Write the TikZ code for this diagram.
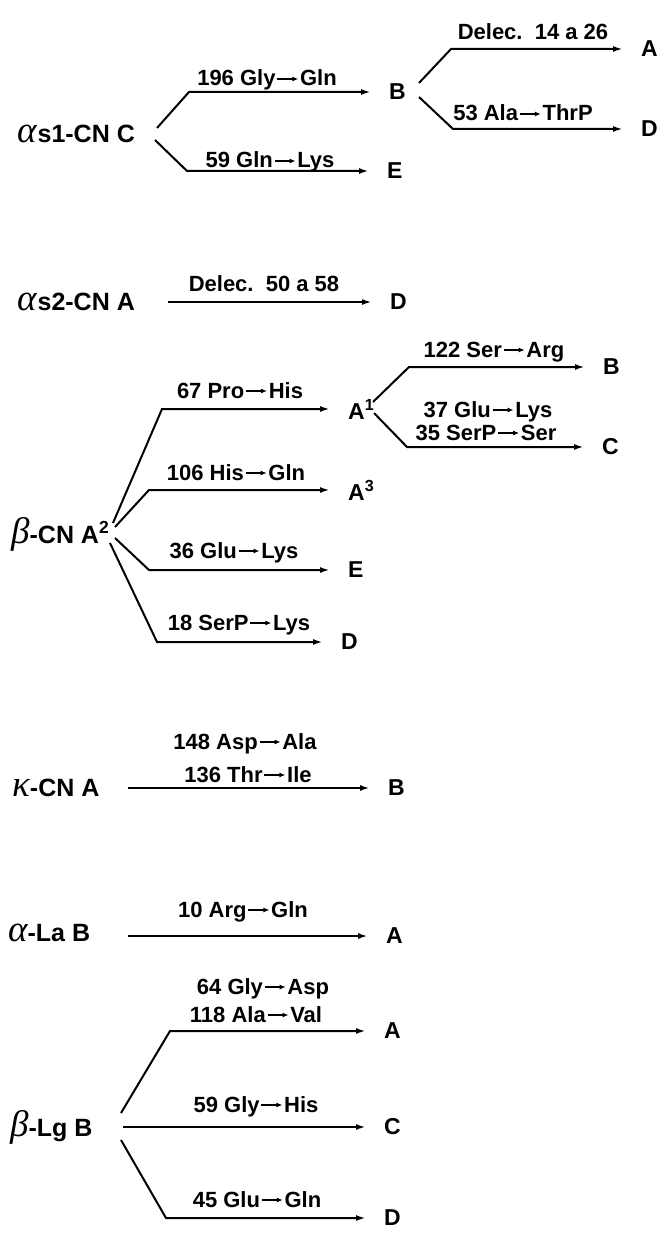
\documentclass[tikz,border=0pt]{standalone}
\usepackage{fontspec}
\setmainfont{Liberation Sans}
\newfontfamily\gkfont{Liberation Serif}
\usetikzlibrary{arrows.meta}
\newcommand\mut{\kern1pt\tikz[baseline=-7pt]\draw[line width=1.5pt,-{Latex[length=6pt,width=5pt]}](0pt,0pt)--(21pt,0pt);\kern1pt}
\newcommand\gk[1]{{\fontsize{37}{37}\selectfont\gkfont\itshape\mdseries #1}}
\tikzset{
  lab/.style={anchor=base,inner sep=0pt,font=\fontsize{22}{24}\selectfont\bfseries},
  src/.style={anchor=base west,inner sep=0pt,font=\fontsize{25}{26}\selectfont\bfseries},
  tgt/.style={anchor=west,inner xsep=18pt,inner ysep=0pt,font=\fontsize{23}{24}\selectfont\bfseries},
  conn/.style={line width=2pt,-{Latex[length=10pt,width=6pt]}}
}
\begin{document}
\begin{tikzpicture}[x=1pt,y=-1pt]
\useasboundingbox (0,0) rectangle (664,1238);
% ---------- alpha s1 ----------
\node[src] (as1) at (17,143) {\gk{α}\kern1pt s1-CN C};
\node[tgt] (b1) at (371,92) {B};
\node[tgt] (e1) at (369,171) {E};
\node[tgt] (a1) at (623,49) {A};
\node[tgt] (d1) at (623,129) {D};
\coordinate (s1u) at (157,128); \coordinate (k1u) at (189,92);
\coordinate (s1l) at (155,140); \coordinate (k1l) at (187,171);
\coordinate (sbu) at (419,83);  \coordinate (kbu) at (451,49);
\coordinate (sbl) at (419,97);  \coordinate (kbl) at (453,129);
\draw[conn] (s1u) -- (k1u) -- (k1u -| b1.west);
\draw[conn] (s1l) -- (k1l) -- (k1l -| e1.west);
\draw[conn] (sbu) -- (kbu) -- (kbu -| a1.west);
\draw[conn] (sbl) -- (kbl) -- (kbl -| d1.west);
\node[lab] (l1) at (267,86) {196 Gly\mut Gln};
\node[lab] (l2) at (270,168) {59 Gln\mut Lys};
\node[lab] (l3) at (533,40) {Delec.~~14 a 26};
\node[lab] (l4) at (523,121) {53 Ala\mut ThrP};
% ---------- alpha s2 ----------
\node[src] (as2) at (17,310) {\gk{α}\kern1pt s2-CN A};
\node[tgt] (d2) at (372,302) {D};
\coordinate (s2) at (168,302);
\draw[conn] (s2) -- (s2 -| d2.west);
\node[lab] (l5) at (264,291) {Delec.~~50 a 58};
% ---------- beta CN ----------
\node[src] (bcn) at (11,543) {\gk{β}-CN A\textsuperscript{2}};
\node[tgt] (ba1) at (330,409) {A\textsuperscript{1}};
\node[tgt] (ba3) at (330,490) {A\textsuperscript{3}};
\node[tgt] (be) at (330,570) {E};
\node[tgt] (bd) at (323,642) {D};
\node[tgt] (bb) at (585,367) {B};
\node[tgt] (bc) at (584,447) {C};
\coordinate (s31) at (113,523); \coordinate (k31) at (162,409);
\coordinate (s32) at (115,527); \coordinate (k32) at (149,490);
\coordinate (s33) at (115,538); \coordinate (k33) at (149,570);
\coordinate (s34) at (110,543); \coordinate (k34) at (157,642);
\coordinate (s35) at (373,402); \coordinate (k35) at (409,367);
\coordinate (s36) at (374,413); \coordinate (k36) at (407,447);
\draw[conn] (s31) -- (k31) -- (k31 -| ba1.west);
\draw[conn] (s32) -- (k32) -- (k32 -| ba3.west);
\draw[conn] (s33) -- (k33) -- (k33 -| be.west);
\draw[conn] (s34) -- (k34) -- (k34 -| bd.west);
\draw[conn] (s35) -- (k35) -- (k35 -| bb.west);
\draw[conn] (s36) -- (k36) -- (k36 -| bc.west);
\node[lab] (l6) at (240,398) {67 Pro\mut His};
\node[lab] (l7) at (236,480) {106 His\mut Gln};
\node[lab] (l8) at (234,558) {36 Glu\mut Lys};
\node[lab] (l9) at (239,630) {18 SerP\mut Lys};
\node[lab] (l10) at (494,357) {122 Ser\mut Arg};
\node[lab] (l11) at (488,417) {37 Glu\mut Lys};
\node[lab] (l12) at (486,440) {35 SerP\mut Ser};
% ---------- kappa ----------
\node[src] (kcn) at (12,796) {\gk{κ}-CN A};
\node[tgt] (kb) at (370,788) {B};
\coordinate (sk) at (128,788);
\draw[conn] (sk) -- (sk -| kb.west);
\node[lab] (l13) at (245,749) {148 Asp\mut Ala};
\node[lab] (l14) at (248,782) {136 Thr\mut Ile};
% ---------- alpha La ----------
\node[src] (ala) at (8,941) {\gk{α}-La B};
\node[tgt] (laa) at (368,936) {A};
\coordinate (sla) at (128,936);
\draw[conn] (sla) -- (sla -| laa.west);
\node[lab] (l15) at (243,917) {10 Arg\mut Gln};
% ---------- beta Lg ----------
\node[src] (blg) at (10,1136) {\gk{β}-Lg B};
\node[tgt] (lga) at (366,1031) {A};
\node[tgt] (lgc) at (366,1127) {C};
\node[tgt] (lgd) at (366,1218) {D};
\coordinate (sg1) at (121,1113); \coordinate (kg1) at (170,1031);
\coordinate (sg2) at (123,1127);
\coordinate (sg3) at (121,1140); \coordinate (kg3) at (166,1218);
\draw[conn] (sg1) -- (kg1) -- (kg1 -| lga.west);
\draw[conn] (sg2) -- (sg2 -| lgc.west);
\draw[conn] (sg3) -- (kg3) -- (kg3 -| lgd.west);
\node[lab] (l16) at (263,994) {64 Gly\mut Asp};
\node[lab] (l17) at (256,1022) {118 Ala\mut Val};
\node[lab] (l18) at (256,1112) {59 Gly\mut His};
\node[lab] (l19) at (257,1207) {45 Glu\mut Gln};
\end{tikzpicture}
\end{document}
